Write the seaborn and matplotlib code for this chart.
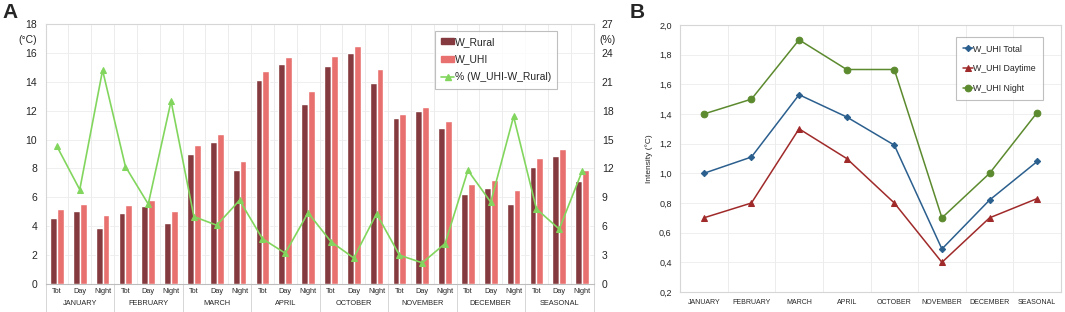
import numpy as np
import pandas as pd
import matplotlib
matplotlib.use("Agg")
import matplotlib.pyplot as plt
import matplotlib.transforms as mtransforms
from matplotlib.lines import Line2D
from matplotlib.patches import Patch
import seaborn as sns

# ---------------- data ----------------
months_a = ["JANUARY", "FEBRUARY", "MARCH", "APRIL", "OCTOBER", "NOVEMBER", "DECEMBER", "SEASONAL"]
periods = ["Tot", "Day", "Night"]
w_rural = [4.55, 5.05, 3.9, 4.9, 5.4, 4.25, 9.0, 9.8, 7.9, 14.1, 15.25, 12.45,
           15.1, 16.0, 13.9, 11.5, 12.0, 10.8, 6.2, 6.65, 5.55, 8.1, 8.85, 7.1]
w_uhi = [5.22, 5.55, 4.8, 5.5, 5.85, 5.05, 9.6, 10.4, 8.55, 14.75, 15.75, 13.35,
         15.8, 16.45, 14.9, 11.8, 12.25, 11.3, 6.9, 7.2, 6.5, 8.75, 9.35, 7.9]
pct_diff = [14.3, 9.8, 22.2, 12.2, 8.3, 19.0, 7.0, 6.1, 8.7, 4.7, 3.2, 7.4,
            4.4, 2.7, 7.3, 3.0, 2.2, 4.2, 11.8, 8.5, 17.4, 7.8, 5.7, 11.7]

months_b = ["JANUARY", "FEBRUARY", "MARCH", "APRIL", "OCTOBER", "NOVEMBER", "DECEMBER", "SEASONAL"]
uhi_total = [1.0, 1.11, 1.53, 1.38, 1.19, 0.49, 0.82, 1.08]
uhi_day = [0.7, 0.8, 1.3, 1.1, 0.8, 0.4, 0.7, 0.83]
uhi_night = [1.4, 1.5, 1.9, 1.7, 1.7, 0.7, 1.0, 1.41]

# ---------------- style ----------------
sns.set_style("white")
plt.rcParams["font.family"] = ["Liberation Sans", "DejaVu Sans"]

C_RURAL = "#843a3e"
C_UHI = "#e8716f"
C_PCT = "#82d65e"
C_TOT = "#2b5f8e"
C_DAY = "#a02a2a"
C_NIGHT = "#5c8a2e"
GRID = "#ececec"
SPINE = "#d6d6d6"

fig = plt.figure(figsize=(10.65, 3.12), dpi=100)

# ---------------- panel A ----------------
axA = fig.add_axes([45.5 / 1065, 1 - 284 / 312, 548 / 1065, 260 / 312])
cats = [f"{m}_{p}" for m in months_a for p in periods]
dfA = pd.DataFrame({
    "cat": cats * 2,
    "value": w_rural + w_uhi,
    "series": ["W_Rural"] * 24 + ["W_UHI"] * 24,
})
sns.barplot(data=dfA, x="cat", y="value", hue="series", order=cats,
            palette={"W_Rural": C_RURAL, "W_UHI": C_UHI}, width=0.6,
            saturation=1, gap=0, legend=False, ax=axA, zorder=3)
axA.set_xlim(-0.5, 23.5)
axA.set_ylim(0, 18)
axA.set_yticks(np.arange(0, 19, 2))
axA.set_xticks(range(24))
axA.set_xticklabels(periods * 8, fontsize=5.3)
axA.tick_params(axis="x", length=0, pad=3)
axA.tick_params(axis="y", length=0, labelsize=7.5, pad=6)
axA.set_xlabel("")
axA.set_ylabel("")
axA.yaxis.grid(True, color=GRID, lw=0.6, zorder=0)
for k in range(25):
    axA.axvline(k - 0.5, color=GRID, lw=0.7, zorder=0)
for s in ["left", "top", "right"]:
    axA.spines[s].set_color(SPINE)
    axA.spines[s].set_linewidth(0.8)
axA.spines["bottom"].set_color("#bdbdbd")
axA.spines["bottom"].set_linewidth(0.8)

trA = mtransforms.blended_transform_factory(axA.transData, axA.transAxes)
for i, m in enumerate(months_a):
    axA.text(3 * i + 1, -0.075, m, transform=trA, ha="center", va="center", fontsize=5.3)
for i in range(9):
    axA.add_line(Line2D([3 * i - 0.5] * 2, [0, -0.11], transform=trA, color=SPINE,
                        lw=0.7, clip_on=False))
axA.text(-0.032, 0.94, "(°C)", transform=axA.transAxes, ha="center", va="center", fontsize=7.5)

axA2 = axA.twinx()
sns.lineplot(x=np.arange(24), y=pct_diff, ax=axA2, color=C_PCT, lw=1.2, marker="^",
             markersize=4.5, markeredgecolor=C_PCT, zorder=5)
axA2.set_ylim(0, 27)
axA2.set_yticks(np.arange(0, 28, 3))
axA2.tick_params(axis="y", length=0, labelsize=7.5, pad=6)
for s in axA2.spines.values():
    s.set_visible(False)
axA2.text(1.025, 0.94, "(%)", transform=axA2.transAxes, ha="center", va="center", fontsize=7.5)

handlesA = [Patch(color=C_RURAL, label="W_Rural"),
            Patch(color=C_UHI, label="W_UHI"),
            Line2D([], [], color=C_PCT, marker="^", markersize=4, lw=1.2,
                   label="% (W_UHI-W_Rural)")]
legA = axA2.legend(handles=handlesA, loc="upper right", bbox_to_anchor=(0.934, 0.975),
                   fontsize=7.5, frameon=True, fancybox=False, handlelength=1.2,
                   handleheight=0.5, handletextpad=0.1, labelspacing=0.75,
                   borderpad=0.6, borderaxespad=0)
legA.get_frame().set_edgecolor("#b0b0b0")
legA.get_frame().set_linewidth(0.8)

fig.text(2 / 1065, 1 - 12 / 312, "A", fontsize=15, fontweight="bold", va="center", ha="left")

# ---------------- panel B ----------------
axB = fig.add_axes([680 / 1065, 1 - 292 / 312, 381 / 1065, 267 / 312])
xb = np.arange(len(months_b))
sns.lineplot(x=xb, y=uhi_total, ax=axB, color=C_TOT, lw=1.1, marker="D", markersize=3.2,
             markeredgecolor=C_TOT, label="W_UHI Total")
sns.lineplot(x=xb, y=uhi_day, ax=axB, color=C_DAY, lw=1.1, marker="^", markersize=4.5,
             markeredgecolor=C_DAY, label="W_UHI Daytime")
sns.lineplot(x=xb, y=uhi_night, ax=axB, color=C_NIGHT, lw=1.1, marker="o", markersize=4.8,
             markeredgecolor=C_NIGHT, label="W_UHI Night")
axB.set_xlim(-0.5, 7.5)
axB.set_ylim(0.2, 2.0)
axB.set_yticks(np.arange(0.2, 2.01, 0.2))
axB.set_yticklabels([f"{v:.1f}".replace(".", ",") for v in np.arange(0.2, 2.01, 0.2)])
axB.set_xticks(xb)
axB.set_xticklabels(months_b, fontsize=5)
axB.tick_params(axis="x", length=0, pad=5)
axB.tick_params(axis="y", length=0, labelsize=6.5, pad=6)
axB.set_ylabel("Intensity (°C)", fontsize=6, labelpad=4)
axB.yaxis.grid(True, color=GRID, lw=0.6, zorder=0)
for k in range(1, 8):
    axB.axvline(k - 0.5, color=GRID, lw=0.7, zorder=0)
for s in axB.spines.values():
    s.set_color(SPINE)
    s.set_linewidth(0.8)
legB = axB.legend(loc="upper right", bbox_to_anchor=(0.953, 0.955), fontsize=6.3,
                  frameon=True, fancybox=False, handlelength=1.1, handletextpad=0.1,
                  labelspacing=1.25, borderpad=0.8, borderaxespad=0)
legB.get_frame().set_edgecolor("#b0b0b0")
legB.get_frame().set_linewidth(0.8)

fig.text(630 / 1065, 1 - 12 / 312, "B", fontsize=15, fontweight="bold", va="center", ha="left")

fig.savefig("out.png", dpi=100)
